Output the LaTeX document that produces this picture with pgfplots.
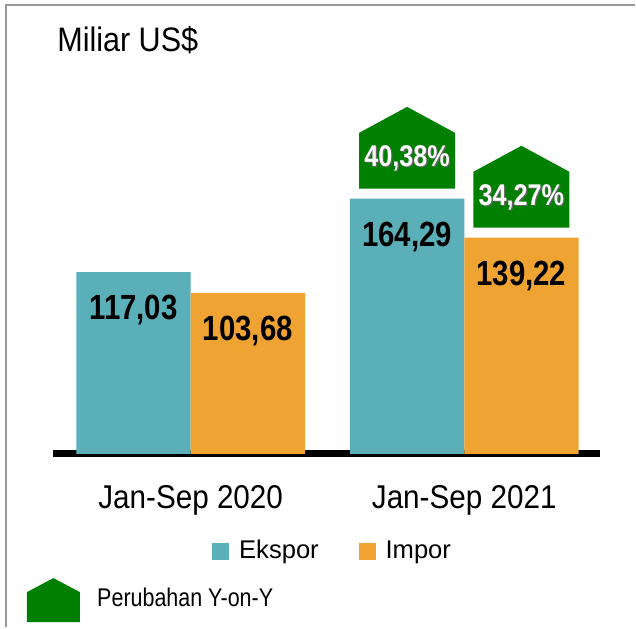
\documentclass[border=0pt]{standalone}
\usepackage{fontspec}
\usepackage{pgfplots}
\pgfplotsset{compat=1.18}
\setmainfont{Liberation Sans}[FakeStretch=0.9]
\newfontfamily\cond{Liberation Sans}[FakeStretch=0.84]
\newfontfamily\wide{Liberation Sans}
\definecolor{ekspor}{HTML}{5AAFB9}
\definecolor{impor}{HTML}{EEA332}
\definecolor{yoy}{HTML}{008000}

% house shaped marker for the y-on-y change, sits above the bar top
\pgfdeclareplotmark{house}{%
  \pgfpathmoveto{\pgfqpoint{-24pt}{5pt}}%
  \pgfpathlineto{\pgfqpoint{24pt}{5pt}}%
  \pgfpathlineto{\pgfqpoint{24pt}{33pt}}%
  \pgfpathlineto{\pgfqpoint{0pt}{46pt}}%
  \pgfpathlineto{\pgfqpoint{-24pt}{33pt}}%
  \pgfpathclose
  \pgfusepathqfill}

\begin{document}
\begin{tikzpicture}
\path (0pt,0pt) rectangle (318pt,-314pt);
\draw[black!40, line width=1pt] (3.25pt,-314pt) -- (3.25pt,-2.25pt) -- (318pt,-2.25pt);
\node[anchor=base west, inner sep=0pt, font=\fontsize{17}{20}\selectfont] at (28.5pt,-26pt) {Miliar US\$};

\begin{axis}[
    at={(26.5pt,-227.25pt)}, anchor=south west,
    scale only axis,
    width=274pt, height=186.6pt,
    xmin=-0.5036, xmax=1.4964,
    ymin=0, ymax=240,
    hide y axis,
    axis x line=bottom,
    x axis line style={-, line width=3.5pt, black},
    xtick={0,1},
    xticklabels={Jan-Sep 2020, Jan-Sep 2021},
    major tick length=0pt,
    xticklabel style={anchor=base, yshift=-27.25pt, font=\fontsize{16.5}{19}\selectfont},
    legend style={at={(0.513,-0.2613)}, anchor=center, draw=none, fill=none,
        legend columns=2, font=\wide\fontsize{12.8}{15}\selectfont,
        /tikz/every odd column/.append style={column sep=3pt},
        /tikz/every even column/.append style={column sep=18pt}},
    legend image code/.code={\fill[#1] (0pt,-4.25pt) rectangle (8.5pt,4.25pt);},
]
\addplot[ybar, bar width=57.25pt, bar shift=-28.625pt, fill=ekspor, draw=none,
    point meta=explicit symbolic, nodes near coords,
    nodes near coords style={anchor=base, xshift=-28.625pt, yshift=-23.75pt, text=black,
        font=\cond\bfseries\fontsize{17.5}{20}\selectfont}]
    coordinates {(0,117.03) [117,03] (1,164.29) [164,29]};
\addplot[ybar, bar width=57.25pt, bar shift=28.625pt, fill=impor, draw=none,
    point meta=explicit symbolic, nodes near coords,
    nodes near coords style={anchor=base, xshift=28.625pt, yshift=-23.75pt, text=black,
        font=\cond\bfseries\fontsize{17.5}{20}\selectfont}]
    coordinates {(0,103.68) [103,68] (1,139.22) [139,22]};
\legend{Ekspor, Impor}

% y-on-y change markers above the 2021 bars
\addplot[forget plot, only marks, mark=house, yoy, mark options={fill=yoy, draw=none},
    point meta=explicit symbolic, nodes near coords,
    nodes near coords style={anchor=base, yshift=15.5pt, xshift=0.6pt, text=black!60,
        font=\cond\bfseries\fontsize{15}{18}\selectfont}]
    coordinates {(0.7911,164.29) [40,38\%] (1.2089,139.22) [34,27\%]};
\addplot[forget plot, draw=none,
    point meta=explicit symbolic, nodes near coords,
    nodes near coords style={anchor=base, yshift=16pt, text=white,
        font=\cond\bfseries\fontsize{15}{18}\selectfont}]
    coordinates {(0.7911,164.29) [40,38\%] (1.2089,139.22) [34,27\%]};
\end{axis}

% key for the y-on-y marker
\fill[yoy] (13.5pt,-311.5pt) -- (40pt,-311.5pt) -- (40pt,-296.5pt) -- (26.75pt,-289.5pt) -- (13.5pt,-296.5pt) -- cycle;
\node[anchor=base west, inner sep=0pt, font=\cond\fontsize{12.8}{15}\selectfont] at (48.5pt,-303.5pt) {Perubahan Y-on-Y};
\end{tikzpicture}
\end{document}
